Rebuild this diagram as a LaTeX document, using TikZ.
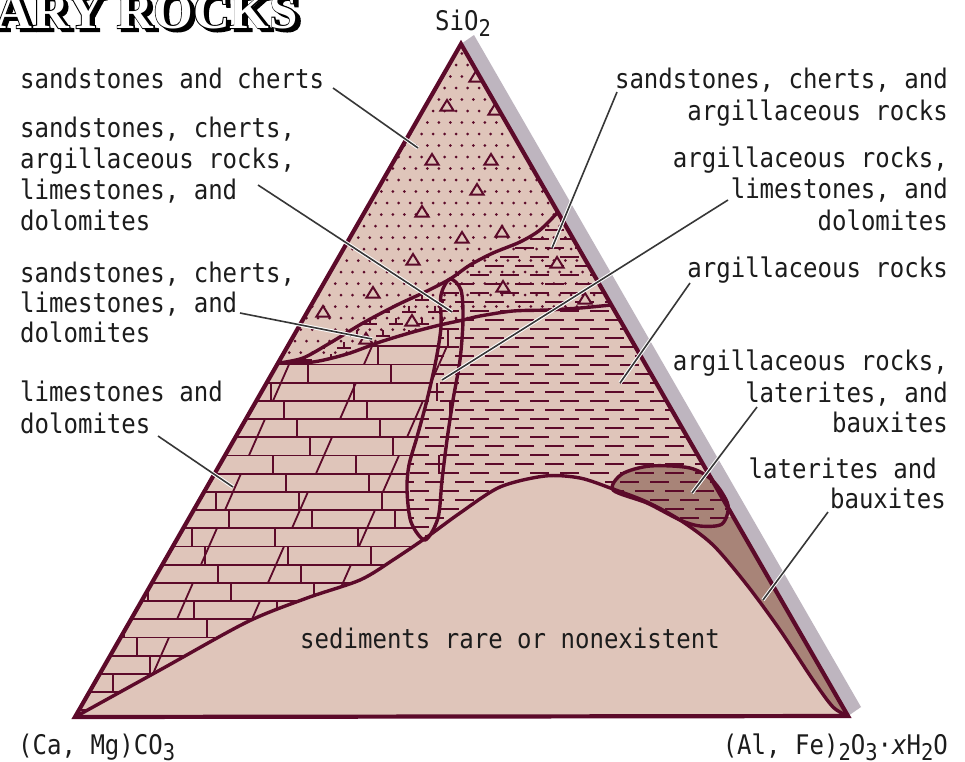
\documentclass[tikz,border=0pt]{standalone}
\usepackage{fontspec}
\newfontfamily\lab[FakeStretch=0.89]{DejaVu Sans Mono}
\newfontfamily\ttlw{Liberation Serif}
\newfontfamily\ttlk{Liberation Serif}[BoldFeatures={FakeBold=4}]
\definecolor{pinkf}{RGB}{223,197,186}
\definecolor{bandf}{RGB}{168,132,120}
\definecolor{lc}{RGB}{92,10,42}
\definecolor{shd}{RGB}{190,181,191}
\definecolor{ldr}{RGB}{55,55,55}
\definecolor{txtc}{RGB}{28,28,28}
\newcommand\lsub[1]{\raisebox{-6pt}{\fontsize{23}{23}\selectfont #1}}
\newcommand\brickmarks{%
  \foreach \k in {-1,...,19}{\foreach \m in {0,...,6}{%
    \draw[pat] ({30+80*\m+mod(37*\k+53*\m+100,50)},{692-18.2*\k}) -- ++(0,-18.2);}}%
  \foreach \k in {-1,...,19}{\foreach \m in {0,...,8}{%
    \pgfmathtruncatemacro\s{mod(\k+\m+3,3)}%
    \ifnum\s=0\relax\else\draw[pat] ({-80+75*\m+8*\k},{692-18.2*\k}) -- ++(8,-18.2);\fi}}%
}
\newcommand\titletext{ARY ROCKS}
\tikzset{
  bnd/.style={draw=lc, line width=3.4pt, line join=round, line cap=round},
  pat/.style={draw=lc, line width=1.8pt},
  dsh/.style={draw=lc, line width=2.2pt},
  tri/.style={draw=lc, line width=2pt, line join=miter, fill=pinkf},
  txt/.style={font=\lab\fontsize{27}{31}\selectfont, inner sep=0pt, text=txtc},
  ldrl/.style={draw=ldr, line width=1.6pt, preaction={draw=white, line width=3.6pt}},
}
\begin{document}
\begin{tikzpicture}[x=1pt,y=-1pt]
\useasboundingbox (0,0) rectangle (965,761);
\clip (0,0) rectangle (965,761);
\fill[white] (0,0) rectangle (965,761);

% title fragment (shadow, outline and white face in one text)
\node[anchor=base west, inner sep=0pt, font=\fontsize{51}{51}\selectfont] (ttl) at (-5,28)
  {\makebox[0pt][l]{\hspace{4pt}\raisebox{-3pt}{\color{black}\ttlk\bfseries\titletext}}%
   \makebox[0pt][l]{\color{black}\ttlk\bfseries\titletext}%
   {\color{white}\ttlw\bfseries\titletext}};

% shadow of right edge
\fill[shd] (461,44) -- (474,35) -- (861,707) -- (848,716) -- cycle;
% base fill
\fill[pinkf] (461,44) -- (848,716) -- (75,717) -- cycle;

% dots (everything above curve L)
\begin{scope}
\clip (461,44) -- (611,305) -- plot[smooth] coordinates {(611,305) (580,308) (547,310) (513,311) (480,316) (463,320) (440,325) (413,332) (380,342) (347,354) (313,362) (279,363)} -- cycle;
\foreach \j in {0,...,29}{\foreach \i in {0,...,31}{\fill[lc] ({272+11.5*\i+5.75*mod(\j,2)},{42+11.5*\j}) circle (1.5pt);}}
\end{scope}

% dashes (argillaceous)
\begin{scope}
\clip (558,212) -- plot[smooth] coordinates {(558,212) (540,230) (520,242) (493,253) (470,265) (450,279)} -- plot[smooth] coordinates {(450,279) (441,295) (441,327) (436,360) (427,400) (417,437) (409,465) (407,490) (411,522) (425,540)} -- plot[smooth] coordinates {(427,537) (460,513) (500,487) (545,476) (580,478) (613,489) (647,502) (680,520) (713,545) (747,585) (780,630) (813,680) (833,707) (848,716)} -- cycle;
\foreach \r in {0,...,57}{\foreach \n in {0,...,16}{\draw[dsh] ({395+30*\n+15*mod(\r,2)},{212+9*\r}) -- ++(19,0);}}
\end{scope}

% lens marks (sandstones + limestones)
\begin{scope}
\clip (450,279) -- plot[smooth] coordinates {(450,279) (425,292) (397,305) (363,323) (330,343) (303,358) (279,363)} -- plot[smooth] coordinates {(279,363) (313,362) (347,354) (380,342) (413,332) (440,325)} -- cycle;
\foreach \r in {0,...,6}{\foreach \n in {0,...,6}{\draw[pat] ({285+26*\n+13*mod(\r,2)},{300+12*\r}) -- ++(14,0) ++(-7,0) -- ++(0,-6);}}
\end{scope}

% bricks (limestones and dolomites)
\begin{scope}
\clip (279,363) -- plot[smooth] coordinates {(279,363) (313,362) (347,354) (380,342) (413,332) (440,325)} -- plot[smooth] coordinates {(441,327) (436,360) (427,400) (417,437) (409,465) (407,490) (411,522) (425,540)} -- plot[smooth] coordinates {(427,537) (393,560) (360,580) (307,598) (247,622) (160,670) (75,717)} -- cycle;
\foreach \k in {-1,...,19}{\draw[pat] (60,{692-18.2*\k}) -- (480,{692-18.2*\k});}
\brickmarks
\end{scope}

% teardrop limestone marks
\begin{scope}
\clip plot[smooth cycle] coordinates {(450,279) (461,290) (463,320) (460,360) (453,400) (447,440) (442,480) (438,518) (425,540) (411,522) (407,490) (409,465) (417,437) (427,400) (436,360) (441,327) (441,295)};
\brickmarks
\end{scope}

% sandstone triangles
\foreach \p in {(476,77),(447,106),(495,110),(432,160),(491,160),(477,190),(422,212),(502,232),(462,238),(413,260),(373,293),(323,312),(557,263),(503,287),(585,299),(412,321),(366,339)}
  {\filldraw[tri] \p ++(-6.5,4.5) -- ++(6.5,-10.5) -- ++(6.5,10.5) -- cycle;}

% laterite band
\fill[bandf] plot[smooth] coordinates {(680,520) (713,545) (747,585) (780,630) (813,680) (833,707) (848,716)} -- (733,517) -- cycle;
% oval
\fill[bandf] plot[smooth cycle] coordinates {(613,490) (622,474) (650,466) (690,468) (713,481) (728,505) (722,524) (700,526) (680,520) (647,503)};
\begin{scope}
\clip plot[smooth cycle] coordinates {(613,490) (622,474) (650,466) (690,468) (713,481) (728,505) (722,524) (700,526) (680,520) (647,503)};
\foreach \r in {0,...,7}{\foreach \n in {0,...,5}{\draw[dsh] ({590+30*\n+15*mod(\r,2)},{464+9*\r}) -- ++(19,0);}}
\end{scope}

% boundaries
\draw[bnd] plot[smooth] coordinates {(558,212) (540,230) (520,242) (493,253) (470,265) (450,279) (425,292) (397,305) (363,323) (330,343) (303,358) (279,363)};
\draw[bnd] plot[smooth] coordinates {(279,363) (313,362) (347,354) (380,342) (413,332) (440,325) (463,320) (480,316) (513,311) (547,310) (580,308) (611,305)};
\draw[bnd] plot[smooth cycle] coordinates {(450,279) (461,290) (463,320) (460,360) (453,400) (447,440) (442,480) (438,518) (425,540) (411,522) (407,490) (409,465) (417,437) (427,400) (436,360) (441,327) (441,295)};
\draw[bnd] plot[smooth] coordinates {(75,717) (160,670) (247,622) (307,598) (360,580) (393,560) (427,537) (460,513) (500,487) (545,476) (580,478) (613,489) (647,502) (680,520) (713,545) (747,585) (780,630) (813,680) (833,707) (848,716)};
\draw[bnd] plot[smooth cycle] coordinates {(613,490) (622,474) (650,466) (690,468) (713,481) (728,505) (722,524) (700,526) (680,520) (647,503)};
\draw[draw=lc, line width=4.2pt, line join=miter] (461,44) -- (848,716) -- (75,717) -- cycle;

% labels
\node[txt, anchor=base west] (apexlbl) at (435,30) {SiO\lsub{2}};
\node[txt, anchor=base west] (leftlbl) at (18,754) {(Ca, Mg)CO\lsub{3}};
\node[txt, anchor=base east] (rightlbl) at (948,754) {(Al, Fe)\lsub{2}O\lsub{3}·{\itshape x}H\lsub{2}O};
\node[txt, anchor=base] (sedlbl) at (510,648) {sediments rare or nonexistent};

\node[txt, anchor=base west] (l1) at (20,88) {sandstones and cherts};
\node[txt, anchor=base west] (l2a) at (20,137) {sandstones, cherts,};
\node[txt, anchor=base west] (l2b) at (20,168) {argillaceous rocks,};
\node[txt, anchor=base west] (l2c) at (20,199) {limestones, and};
\node[txt, anchor=base west] (l2d) at (20,230) {dolomites};
\node[txt, anchor=base west] (l3a) at (20,282) {sandstones, cherts,};
\node[txt, anchor=base west] (l3b) at (20,312) {limestones, and};
\node[txt, anchor=base west] (l3c) at (20,342) {dolomites};
\node[txt, anchor=base west] (l4a) at (20,401) {limestones and};
\node[txt, anchor=base west] (l4b) at (20,433) {dolomites};

\node[txt, anchor=base east] (r1a) at (948,88) {sandstones, cherts, and};
\node[txt, anchor=base east] (r1b) at (948,120) {argillaceous rocks};
\node[txt, anchor=base east] (r2a) at (948,167) {argillaceous rocks,};
\node[txt, anchor=base east] (r2b) at (948,198) {limestones, and};
\node[txt, anchor=base east] (r2c) at (948,230) {dolomites};
\node[txt, anchor=base east] (r3) at (948,277) {argillaceous rocks};
\node[txt, anchor=base east] (r4a) at (948,370) {argillaceous rocks,};
\node[txt, anchor=base east] (r4b) at (948,402) {laterites, and};
\node[txt, anchor=base east] (r4c) at (948,432) {bauxites};
\node[txt, anchor=base east] (r5a) at (937,478) {laterites and};
\node[txt, anchor=base east] (r5b) at (946,508) {bauxites};

% leader lines
\coordinate (a1) at (333,88);  \coordinate (b1) at (418,148);
\coordinate (a2) at (258,185); \coordinate (b2) at (452,312);
\coordinate (a3) at (240,313); \coordinate (b3) at (372,339);
\coordinate (a4) at (158,436); \coordinate (b4) at (233,487);
\coordinate (a5) at (617,92);  \coordinate (b5) at (552,248);
\coordinate (a6) at (728,200); \coordinate (b6) at (442,380);
\coordinate (a7) at (690,283); \coordinate (b7) at (620,383);
\coordinate (a8) at (757,407); \coordinate (b8) at (692,493);
\coordinate (a9) at (828,512); \coordinate (b9) at (763,600);
\foreach \i in {1,...,9}{\draw[ldrl] (a\i) -- (b\i);}
\end{tikzpicture}
\end{document}
